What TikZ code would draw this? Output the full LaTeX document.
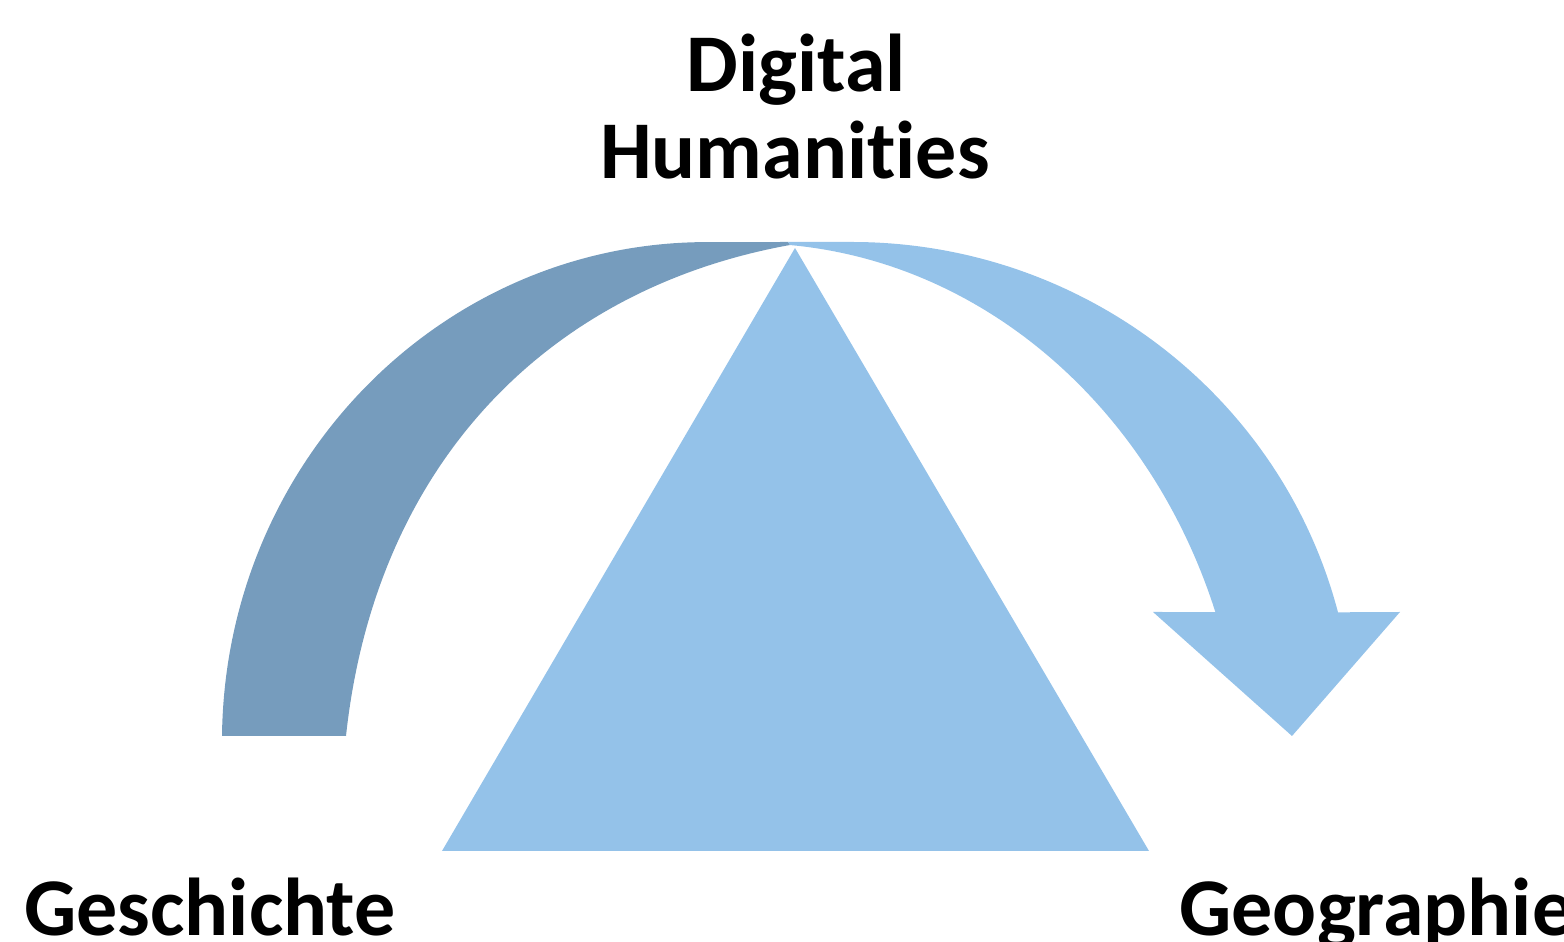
\documentclass[tikz,border=0pt]{standalone}
\usepackage{fontspec}
\setmainfont{Carlito}[Ligatures=NoCommon]
\definecolor{backblue}{RGB}{118,156,189}
\definecolor{frontblue}{RGB}{148,194,233}
\tikzset
{
  backband/.style={fill=backblue},
  frontband/.style={fill=frontblue},
  word/.style={font=\fontsize{41}{49}\selectfont\bfseries,inner sep=0pt},
}

\begin{document}
\begin{tikzpicture}[x=0.5pt,y=0.5pt]
\useasboundingbox (0,0) rectangle (1564,942);
\fill[frontband] (795,694) -- (1149,91) -- (442,91) -- cycle;%三角形
%左边深色的弧(箭头背面)
\fill[backband] (222,206) arc[start angle=179.3,end angle=90,x radius=485,y radius=500]
  -- (788,700) -- (790,697)
  .. controls (546,653) and (375,476) .. (346,206) -- cycle;
%右边浅色的弧和箭头
\fill[frontband] (790,697) -- (788,700) -- (852,700)
  arc[start angle=90,end angle=14.5,x radius=502,y radius=494]
  -- (1400,330) -- (1292,206) -- (1153,330)
  -- ([shift={(750,142)}]19.73:494.4 and 556.8)
  arc[start angle=19.73,end angle=85.36,x radius=494.4,y radius=556.8] -- cycle;
\node[word,anchor=base] (digital)    at (796,850) {Digital};
\node[word,anchor=base] (humanities) at (795,763) {Humanities};
\node[word,anchor=base west] (geschichte) at (24,6)   {Geschichte};
\node[word,anchor=base west] (geographie) at (1179,6) {Geographie};
\end{tikzpicture}
\end{document}
